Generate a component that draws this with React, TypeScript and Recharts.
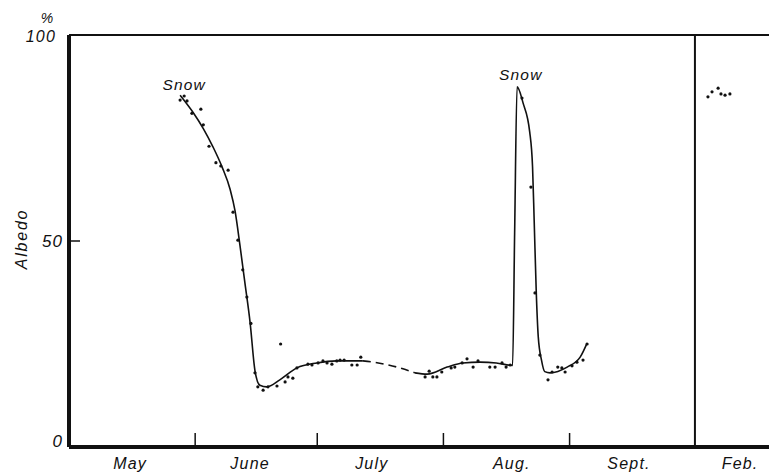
import React from 'react';
import { ComposedChart, Line, Scatter, XAxis, YAxis, ReferenceLine, ReferenceDot } from 'recharts';

// x = days since May 1, y = albedo (%)
const curveSpring: [number, number][] = [
  [27.3, 85.4], [30.5, 81.2], [33, 77.3], [35.4, 72.8], [37.6, 68], [39.6, 62.5],
  [40.8, 57.3], [42, 49], [43.2, 40], [44.5, 30.2], [45.7, 18.5], [46.9, 15],
  [48.6, 14.6], [51.8, 16.3], [56, 19.2], [60.9, 20.4], [65.8, 20.9], [72.2, 20.9],
];
const curveGap: [number, number][] = [
  [72.2, 20.9], [76, 20.4], [81.3, 19.2], [85, 18],
];
const curveAugust: [number, number][] = [
  [85, 18], [88, 17.7], [92.9, 19.4], [96.8, 20.4], [101, 20.6], [105, 20.4],
  [109, 19.8], [109.5, 52], [110.1, 87.4], [111.6, 83.4], [113.2, 76.5], [113.9, 68],
  [114.3, 55], [114.8, 38], [115.3, 26.8], [116.1, 21.1], [116.9, 18.3], [118.2, 18],
  [122.4, 19.4], [125.6, 21.8], [127.3, 25.2],
];
const observations: [number, number][] = [
  [27.3, 84.2], [28.3, 85.2], [29, 84], [30.2, 81], [32.4, 82], [33, 78.2], [34.4, 73],
  [36.1, 69], [37.3, 68.2], [39.1, 67.2], [40.3, 57], [41.5, 50.2], [42.7, 43], [43.7, 36.4],
  [44.7, 30], [45.7, 18], [46.4, 14.6], [47.7, 13.8], [48.9, 14.6], [51.1, 14.8], [52, 25],
  [53.1, 15.8], [53.8, 17], [55, 16.7], [56, 19.2], [58.7, 20.1], [59.7, 19.9], [61.2, 20.4],
  [62.4, 20.9], [63.4, 20.4], [64.6, 20.1], [65.8, 20.9], [66.6, 21.1], [67.6, 21.1],
  [69.5, 19.9], [70.8, 19.9], [71.7, 21.8],
  [87.5, 17], [88.5, 18.4], [89.4, 17], [90.4, 17], [91.6, 18.2], [93.9, 19.2], [94.8, 19.4],
  [96.6, 20.4], [97.8, 21.4], [99.3, 19.4], [100.5, 20.9], [103.4, 19.4], [104.7, 19.4],
  [106.4, 20.4], [107.4, 19.4], [108.4, 19.9],
  [111.3, 84.7], [113.5, 63.1], [114.5, 37.4], [115.7, 22.3],
  [117.7, 16.3], [118.7, 18.2], [120.1, 19.4], [121.1, 19.2], [121.9, 18.2], [123.6, 19.7],
  [124.8, 20.6], [126.3, 21.1], [127.3, 25],
];
const februaryObs: [number, number][] = [
  [157, 85], [158, 86.2], [159.5, 87.1], [160.2, 85.7], [161.2, 85.4], [162.4, 85.7],
];
const monthBoundaries = [31, 61, 92, 123];
const seasonBreak = 153.8;
const monthNames = ['May', 'June', 'July', 'Aug.', 'Sept.', 'Feb.'];
const monthLabelDays = [15, 44.5, 74.4, 108.8, 137.6, 164.9];
const yTicks = [0, 50, 100];
const snowLabels: [number, number][] = [[28.3, 87.9], [111, 90.3]];
const xDomain: [number, number] = [0, 172];

const toPts = (a: [number, number][]) => a.map(([day, albedo]) => ({ day, albedo }));
const xTicks = [...monthBoundaries, ...monthLabelDays].sort((a, b) => a - b);

const FONT = '"Liberation Sans", Arial, sans-serif';
const INK = '#111';

const XTick = (p: any) => {
  const v = p.payload.value;
  if (monthBoundaries.includes(v)) {
    return <line x1={p.x} y1={p.y} x2={p.x} y2={p.y - 14} stroke={INK} strokeWidth={1.5} />;
  }
  const idx = monthLabelDays.indexOf(v);
  return (
    <text x={p.x} y={p.y + 22} textAnchor="middle" fontFamily={FONT} fontStyle="italic"
      fontSize={16} letterSpacing={1.2} fill={INK}>
      {monthNames[idx]}
    </text>
  );
};

const YTick = (p: any) => {
  const v = p.payload.value;
  if (v === 100) {
    return (
      <g>
        <text x={p.x - 13} y={p.y + 7} textAnchor="end" fontFamily={FONT} fontStyle="italic"
          fontSize={16} letterSpacing={1.2} fill={INK}>100</text>
        <text x={p.x - 22} y={p.y - 12} textAnchor="middle" fontFamily={FONT} fontStyle="italic"
          fontSize={14} fill={INK}>%</text>
      </g>
    );
  }
  return (
    <g>
      {v === 50 && <line x1={p.x} y1={p.y} x2={p.x + 11} y2={p.y} stroke={INK} strokeWidth={1.5} />}
      <text x={p.x - 6} y={p.y + (v === 0 ? 0 : 6)} textAnchor="end" fontFamily={FONT} fontStyle="italic"
        fontSize={17} letterSpacing={1} fill={INK}>{v}</text>
    </g>
  );
};

const AlbedoLabel = (p: any) => {
  const vb = p.viewBox || {};
  const cx = 21;
  const cy = (vb.y ?? 35) + (vb.height ?? 412) / 2 - 2;
  return (
    <text x={cx} y={cy} transform={`rotate(-90 ${cx} ${cy})`} textAnchor="middle" dominantBaseline="central"
      fontFamily={FONT} fontStyle="italic" fontSize={16} letterSpacing={1.8} fill={INK}>Albedo</text>
  );
};

const SnowLabel = (p: any) => {
  const vb = p.viewBox || {};
  const x = vb.cx ?? vb.x;
  const y = vb.cy ?? vb.y;
  return (
    <text x={x} y={y + 5} textAnchor="middle" fontFamily={FONT} fontStyle="italic"
      fontSize={15.5} letterSpacing={1.2} fill={INK}>Snow</text>
  );
};

const Dot = (p: any) => <circle cx={p.cx} cy={p.cy} r={1.6} fill={INK} />;

export default function App() {
  return (
    <div style={{ position: 'absolute', left: 0, top: 0, background: '#fff' }}>
      <ComposedChart width={769} height={473} margin={{ top: 34, right: 0, bottom: 25, left: 68 }}>
        <XAxis xAxisId="main" type="number" dataKey="day" domain={xDomain} allowDataOverflow
          ticks={xTicks} interval={0} height={1} tickSize={0} tickMargin={0}
          tickLine={false} tick={<XTick />} axisLine={{ stroke: INK, strokeWidth: 4 }} />
        <XAxis xAxisId="top" orientation="top" type="number" domain={xDomain} allowDataOverflow
          height={1} tick={false} tickLine={false} axisLine={{ stroke: INK, strokeWidth: 2 }} />
        <YAxis type="number" dataKey="albedo" domain={[0, 100]} ticks={yTicks} interval={0} width={1}
          tickSize={0} tickMargin={0} tickLine={false} tick={<YTick />}
          axisLine={{ stroke: INK, strokeWidth: 4 }} label={{ content: <AlbedoLabel /> }} />
        <ReferenceLine xAxisId="main" x={seasonBreak} stroke={INK} strokeWidth={2} />
        <Line xAxisId="main" data={toPts(curveSpring)} dataKey="albedo" type="monotone" stroke={INK}
          strokeWidth={1.6} dot={false} activeDot={false} isAnimationActive={false} />
        <Line xAxisId="main" data={toPts(curveGap)} dataKey="albedo" type="monotone" stroke={INK}
          strokeWidth={1.6} strokeDasharray="8 5" dot={false} activeDot={false} isAnimationActive={false} />
        <Line xAxisId="main" data={toPts(curveAugust)} dataKey="albedo" type="monotone" stroke={INK}
          strokeWidth={1.6} dot={false} activeDot={false} isAnimationActive={false} />
        <Scatter xAxisId="main" data={toPts(observations)} dataKey="albedo" shape={<Dot />} isAnimationActive={false} />
        <Scatter xAxisId="main" data={toPts(februaryObs)} dataKey="albedo" shape={<Dot />} isAnimationActive={false} />
        {snowLabels.map(([d, v], i) => (
          <ReferenceDot key={i} xAxisId="main" x={d} y={v} r={0} fill="none" stroke="none"
            label={{ content: <SnowLabel /> }} />
        ))}
      </ComposedChart>
    </div>
  );
}
